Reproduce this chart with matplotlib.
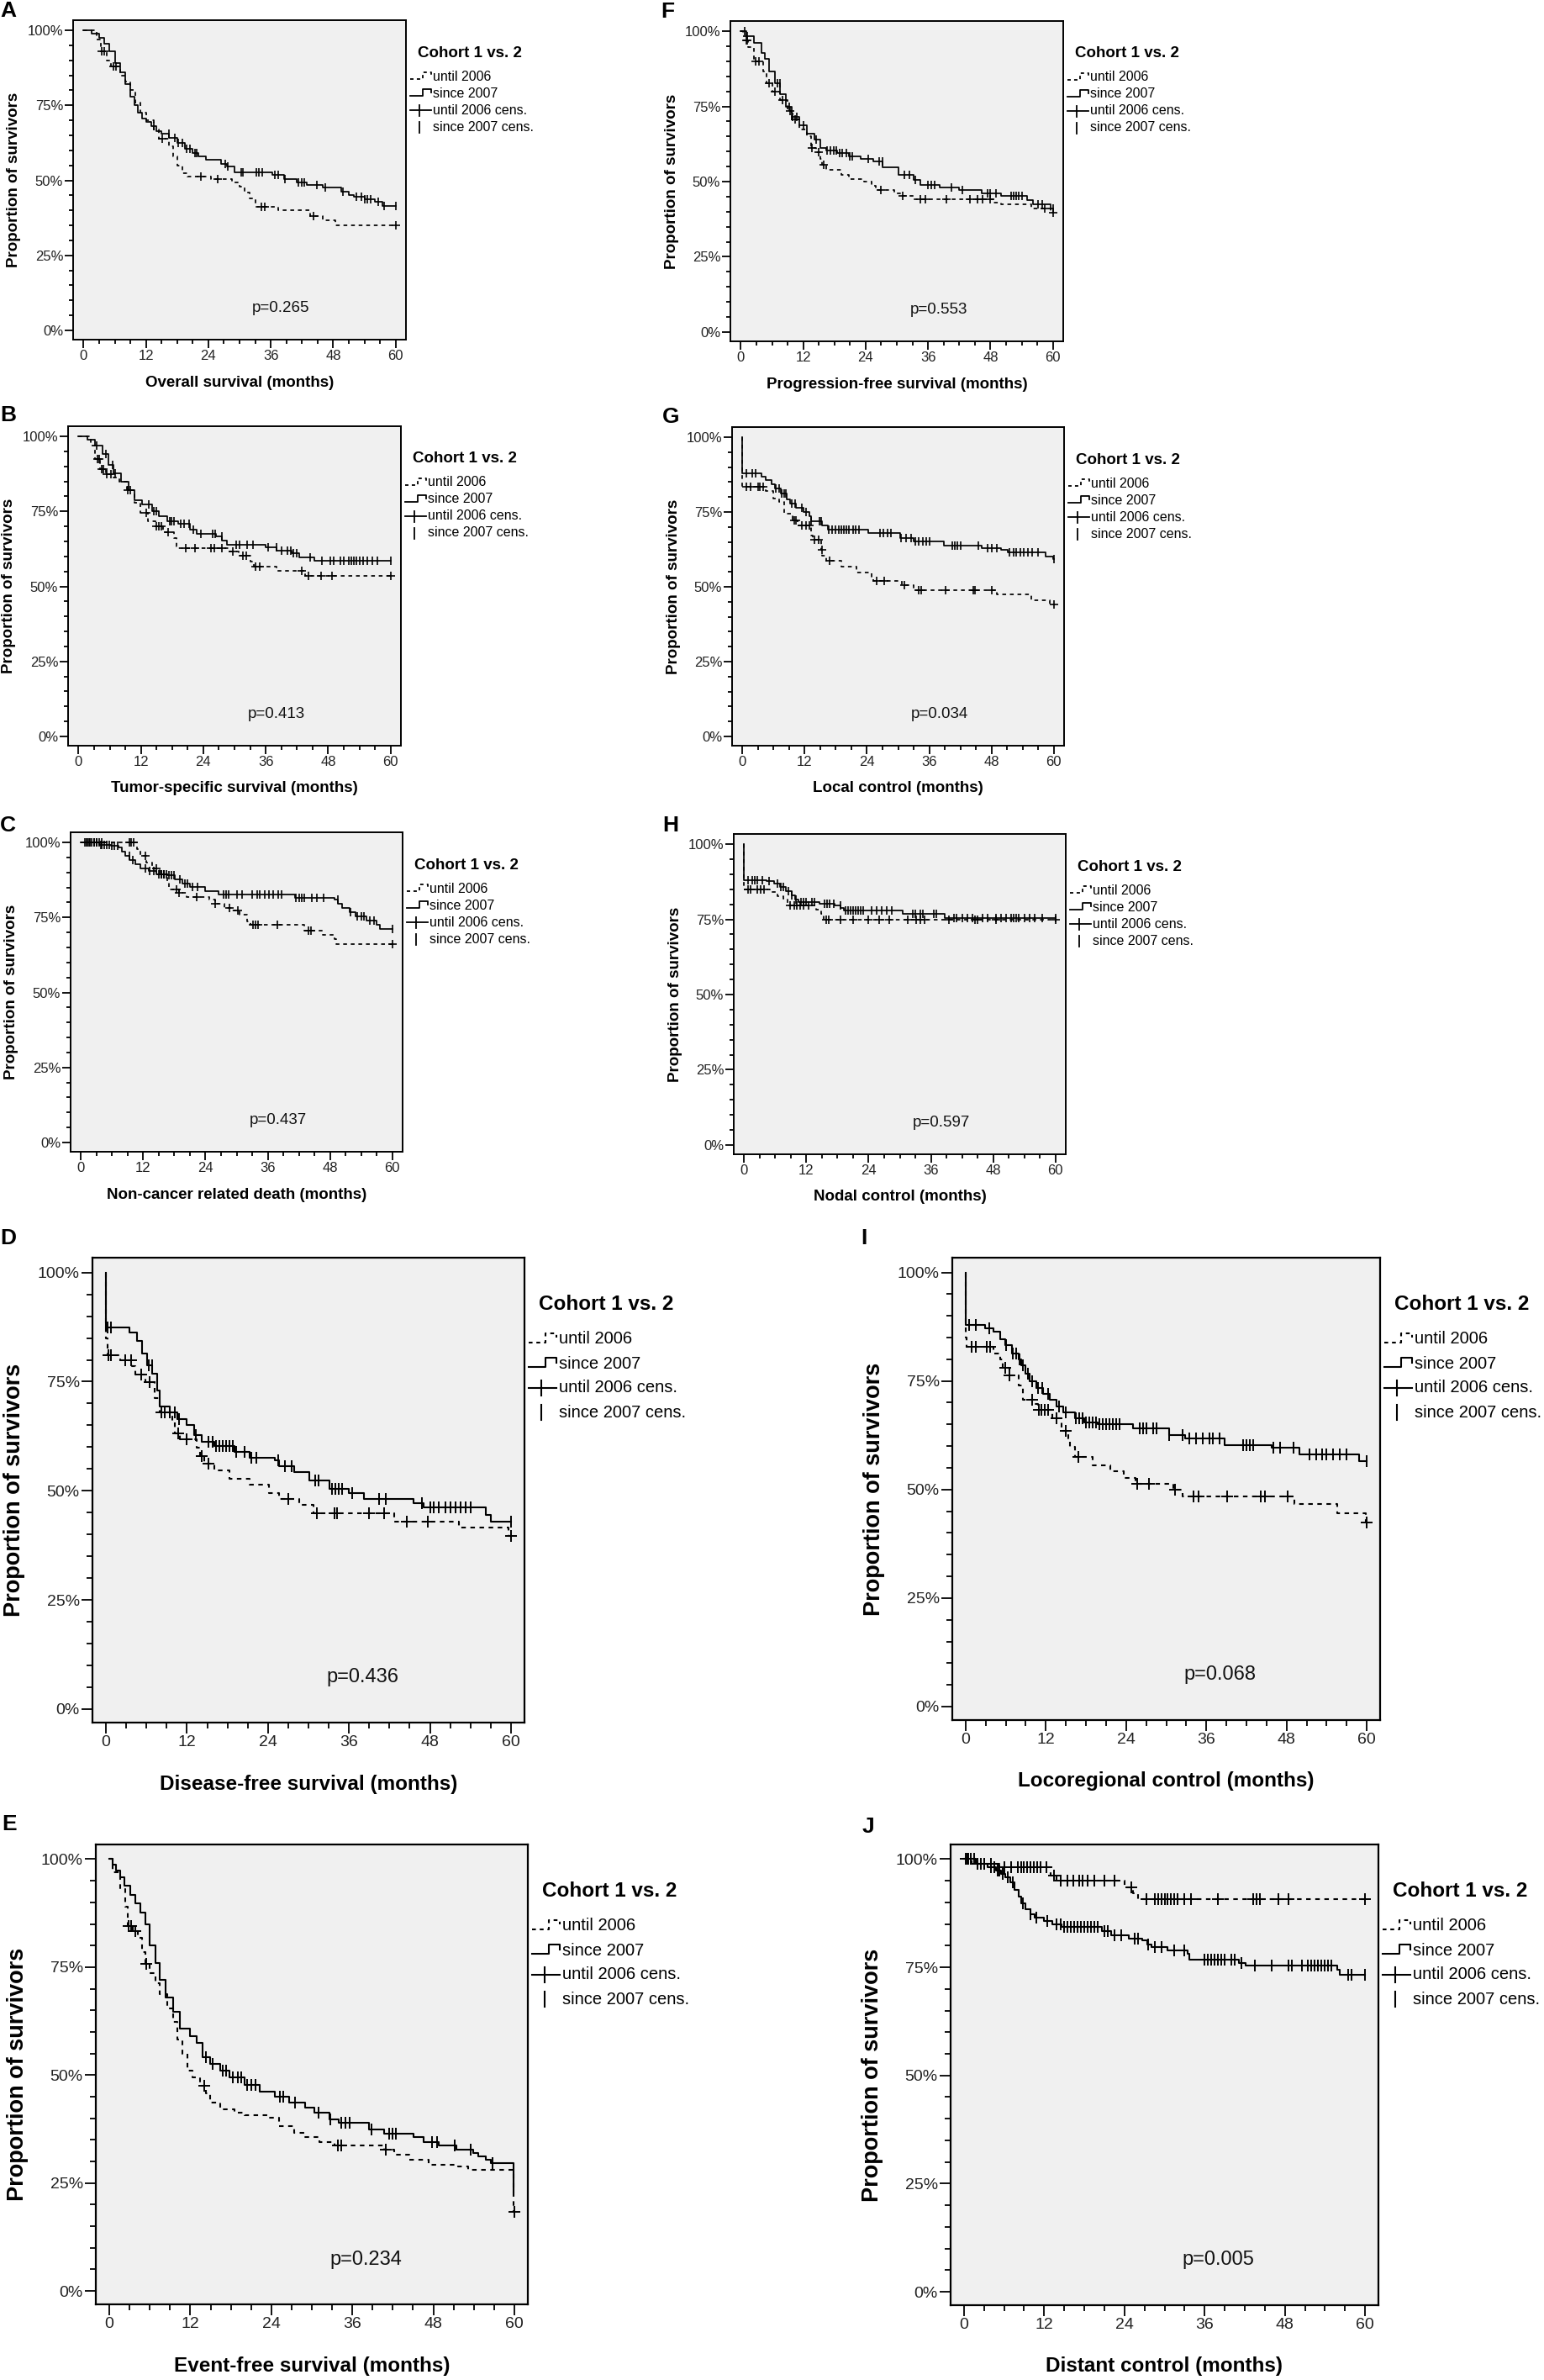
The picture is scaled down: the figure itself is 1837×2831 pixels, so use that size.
import numpy as np
import matplotlib
matplotlib.use('Agg')
import matplotlib.pyplot as plt
from matplotlib.ticker import MultipleLocator

plt.rcParams['font.family'] = ['Liberation Sans', 'DejaVu Sans']

# ---------------- data (months, % surviving) ----------------
# A  Overall survival
A_until_t = [2.5, 3.3, 4.5, 5.2, 7.0, 8.0, 9.0, 10.0, 10.9, 12.0, 13.5, 14.5, 16.5, 17.2, 18.0, 19.0, 20.0, 24.5, 28.5, 30.0, 31.0, 32.0, 33.0, 37.5, 43.5, 46.0, 48.5]
A_until_s = [97, 93, 90, 88, 85, 83, 80, 76, 72.5, 70, 67, 64, 61.5, 58, 55, 52.5, 51.3, 50.3, 49.3, 48, 46, 44, 41.3, 40, 38.2, 36.7, 35]
A_until_c = [3.5, 4.0, 5.7, 6.2, 15.2, 22.5, 25.8, 34.2, 34.9, 44.2, 60]
A_since_t = [1.5, 3, 4, 5, 6, 7, 8, 9, 9.8, 10.5, 11.2, 12, 13, 14, 15, 16.5, 18, 19.5, 21, 22, 23.6, 26.5, 27.5, 29, 36.3, 38.5, 41, 43, 46, 49.5, 51, 52, 54, 56, 57.5]
A_since_s = [99, 97.5, 95.5, 93, 89, 86, 82, 78, 75, 72.5, 70.5, 69.5, 68, 66.5, 65.5, 64.3, 62.5, 60.5, 59, 58, 56.8, 55.6, 54.5, 52.7, 51.7, 50.5, 49.4, 48.4, 47.5, 46.2, 45, 44.5, 43.7, 42.8, 41.4]
A_since_c = [13.5, 16.4, 17.5, 18.2, 19, 19.8, 20.5, 21.5, 21.8, 27.2, 27.8, 30.3, 30.7, 33.2, 33.7, 34.3, 36.8, 37.5, 38.8, 41.3, 41.9, 42.5, 44.8, 46.5, 49.8, 52.5, 53.5, 54, 54.5, 55.2, 56.7, 57.8, 60]

# B  Tumor-specific survival
B_until_t = [2.4, 3.1, 4.2, 5.3, 6.8, 7.9, 9.3, 10.8, 11.9, 13.3, 14.8, 16.3, 18.4, 18.8, 19.2, 29.0, 30.8, 33.0, 33.7, 38.1, 43.6]
B_until_s = [97, 92.4, 89, 87.5, 86.3, 84.9, 82, 77.9, 74.6, 71.8, 70, 68.1, 66.2, 63.4, 62.7, 61.6, 60.1, 58.2, 56.7, 55.1, 53.5]
B_until_c = [3.6, 3.9, 4.4, 4.8, 5.5, 6.2, 9.5, 13.0, 15.0, 15.4, 16.0, 17.3, 20.6, 22.4, 25.4, 26.1, 27.6, 29.7, 31.6, 32.3, 34.1, 34.8, 42.9, 44.3, 46.7, 48.7, 60]
B_since_t = [1.7, 3.1, 4.6, 5.7, 6.8, 8.2, 9.7, 10.8, 12.2, 14.1, 15.5, 17.0, 19.2, 21.4, 22.8, 26.5, 27.6, 28.6, 35.9, 38.1, 41.0, 42.5, 45.4]
B_since_s = [99, 97, 94.2, 90.5, 87.7, 84.9, 82, 78.8, 77.4, 75.1, 73.3, 71.8, 70.9, 69, 67.6, 66.7, 65.3, 63.9, 63, 62, 61.1, 59.7, 58.6]
B_since_c = [3.5, 5.3, 6.5, 7, 10, 13.5, 14.5, 15, 17.5, 17.8, 18.3, 19.7, 20.3, 21.2, 22, 23.5, 25.8, 26.3, 27.5, 30.3, 31, 32.5, 33.5, 36.5, 38, 39, 40.2, 40.8, 41.3, 42, 44.5, 46.8, 48.5, 49, 50.3, 51, 52, 52.5, 53, 53.5, 54, 54.8, 55.5, 56.5, 57.5, 60]

# C  Non-cancer related death
C_until_t = [10.8, 11.5, 12.6, 13.7, 15.2, 16.7, 17.0, 18.9, 20.3, 24.7, 25.8, 27.6, 29.1, 30.6, 32.0, 32.7, 43.0, 46.6, 48.8, 49.2]
C_until_s = [97.8, 95.5, 93.2, 91.3, 89.4, 86.6, 84.3, 83.3, 81.9, 81, 79.6, 78.2, 77.3, 75.9, 73.6, 72.6, 70.7, 69.3, 67.9, 66]
C_until_c = [0.8, 1.3, 1.8, 2.5, 3.0, 3.5, 4.0, 9.3, 9.7, 10.2, 12.5, 14.5, 15.5, 16.0, 18.4, 18.9, 22.3, 25.9, 28.6, 30.2, 33.2, 33.7, 34.2, 37.8, 43.8, 44.3, 60]
C_since_t = [3.5, 5.7, 7.2, 7.9, 8.6, 9.4, 10.5, 11.5, 13.0, 14.5, 16.7, 18.1, 19.6, 21.0, 24.0, 26.5, 41.2, 48.8, 49.6, 50.3, 51.8, 52.9, 55.0, 56.9, 57.6]
C_since_s = [99.2, 98.8, 98.3, 96.9, 95.5, 94.1, 92.7, 91.3, 90.4, 89.4, 89, 87.6, 86.2, 85.2, 83.8, 82.7, 81.5, 81, 79.6, 78.2, 76.8, 75.4, 74, 72.6, 71.2]
C_since_c = [1, 1.5, 2, 2.5, 3, 3.8, 4, 4.5, 5, 5.5, 6, 6.5, 7, 9.3, 10, 12.5, 13.3, 14, 15, 15.5, 16, 16.5, 17, 17.5, 18, 19, 20, 20.5, 21.5, 22.5, 27.5, 28, 28.5, 30, 31, 33, 34, 34.5, 35.5, 36.3, 37, 38, 38.7, 41.5, 42, 42.5, 43, 44.5, 45.5, 46.8, 49.5, 52, 53.3, 54, 54.5, 55.7, 56.5, 60]

# D  Disease-free survival
D_until_t = [0.0, 0.3, 2.1, 3.9, 4.3, 5.8, 7.2, 8.0, 9.8, 10.2, 10.9, 13.5, 13.9, 14.6, 16.1, 18.3, 21.3, 24.2, 25.7, 28.6, 30.8, 42.7, 52.3, 59.6]
D_until_s = [85, 81, 80, 78.6, 76.7, 74.9, 71.2, 67.9, 66, 63.2, 61.8, 59.9, 58, 56.2, 54.7, 52.8, 51.4, 49.5, 48.1, 46.7, 44.8, 43, 41.5, 39.7]
D_until_c = [0.4, 0.7, 2.8, 3.7, 5.2, 6.5, 8.2, 8.7, 9.4, 10.7, 11.9, 14.2, 15.2, 27.0, 31.2, 33.8, 34.2, 39.0, 41.2, 44.6, 47.7, 60]
D_since_t = [0.0, 3.5, 4.6, 5.4, 6.1, 6.9, 7.6, 8.0, 9.4, 10.6, 12.0, 13.1, 14.2, 16.1, 19.0, 21.3, 25.0, 25.7, 27.9, 30.1, 33.1, 36.0, 38.2, 45.6, 47.1, 56.3, 57.0]
D_since_s = [87.5, 86.2, 84.3, 81.5, 78.7, 76.8, 73, 69.3, 67.9, 66.4, 65, 62.7, 61.3, 60.3, 58.9, 57.5, 57, 55.6, 54.2, 52.3, 50.4, 49.5, 48.1, 47.2, 46.2, 44.4, 42.9]
D_since_c = [0.3, 0.7, 6.3, 6.8, 9.5, 10.2, 10.8, 13.3, 15.2, 15.8, 16.3, 16.8, 17.3, 17.8, 18.3, 18.8, 19.3, 20.5, 21.5, 22.3, 25.5, 26.5, 27.5, 31, 31.5, 33.5, 34, 34.5, 35, 36.5, 40.5, 41.5, 46.8, 48, 48.5, 49.3, 50.3, 51, 51.8, 52.5, 53.3, 54, 60]

# E  Event-free survival
E_until_t = [0.5, 1.6, 2.4, 2.7, 3.5, 4.2, 4.9, 5.4, 6.0, 6.8, 7.5, 8.6, 9.4, 10.1, 10.8, 11.6, 12.3, 13.5, 14.3, 14.9, 16.4, 18.6, 20.0, 23.7, 25.2, 27.4, 28.9, 31.1, 33.3, 40.7, 42.2, 44.4, 47.3, 51.7, 53.2, 59.9]
E_until_s = [97, 93, 88.9, 84.5, 83.3, 81.7, 78.5, 75.7, 73.6, 71.2, 68.8, 65.5, 62.3, 58.3, 55, 51, 49.4, 47.5, 45.7, 43.7, 42.1, 41.3, 40.7, 40.1, 38.1, 36.6, 35.7, 34.5, 33.7, 32.8, 31.6, 30.4, 29.2, 28.8, 28, 18.3]
E_until_c = [2.9, 3.2, 3.8, 5.5, 14.0, 33.8, 34.4, 41.0, 60]
E_since_t = [0.5, 1.0, 1.6, 2.2, 3.1, 3.8, 4.6, 5.3, 6.0, 6.8, 7.5, 8.3, 9.4, 10.5, 11.9, 13.0, 13.8, 14.9, 16.4, 17.8, 20.0, 22.3, 24.5, 26.7, 29.0, 30.4, 32.6, 34.0, 38.5, 40.7, 45.1, 46.6, 48.8, 51.4, 53.9, 54.7, 55.8, 56.5, 59.9]
E_since_s = [98.8, 97.3, 95.8, 93.8, 91.8, 89.8, 87.7, 84.9, 80, 76, 72, 68, 64.7, 60.7, 59, 57.5, 54.2, 52.6, 51, 49.4, 47.8, 46.2, 45, 43.7, 42.5, 41.3, 39.7, 38.9, 37.3, 36.5, 35.7, 34.5, 33.7, 32.8, 32, 31.2, 30.4, 29.6, 23]
E_since_c = [14.3, 15.3, 16.8, 17.3, 18.3, 19.0, 19.5, 20.4, 21.0, 21.6, 25.3, 25.8, 27.5, 31.0, 32.8, 34.3, 35.0, 35.6, 38.8, 41.5, 42.0, 42.5, 47.8, 48.5, 51.2, 53.5, 56.8]

# F  Progression-free survival
F_until_t = [0.5, 1.0, 1.4, 2.5, 4.3, 5.0, 6.1, 7.6, 9.0, 9.8, 11.3, 12.7, 13.5, 14.5, 15.3, 15.6, 16.4, 19.3, 20.8, 23.7, 25.1, 25.9, 29.5, 31.0, 33.2, 48.5, 50.0, 55.8, 59.5]
F_until_s = [98.5, 97, 94.6, 90, 86.6, 82.8, 80, 77.2, 73.5, 70.6, 67.4, 65, 61.3, 59.8, 57.5, 55.6, 53.8, 52.3, 50.9, 50, 48.6, 47.2, 46.2, 45.3, 44.2, 43, 42.5, 41.1, 39.7]
F_until_c = [1.1, 1.3, 2.8, 3.5, 5.5, 6.5, 8.0, 9.5, 10.5, 13.7, 15.0, 16.0, 27.0, 31.2, 34.5, 35.5, 39.5, 44.0, 45.5, 46.5, 48.0, 58.5, 60]
F_since_t = [1.0, 2.5, 3.9, 4.7, 5.4, 6.5, 7.6, 8.7, 9.8, 11.3, 12.7, 14.2, 15.3, 16.4, 18.6, 20.8, 23.0, 25.5, 27.3, 30.3, 33.2, 34.6, 38.3, 42.0, 46.3, 50.0, 55.1, 56.2, 59.5]
F_since_s = [98.3, 96, 92.7, 90.8, 86.6, 82.8, 79, 74.9, 71.6, 68.8, 66, 64, 61.3, 60.3, 59.4, 58.4, 57.5, 56.6, 54.7, 52.3, 50.5, 49, 48.1, 47.2, 46.2, 45.3, 43.9, 42.5, 41.1]
F_since_c = [0.8, 1.3, 7.0, 7.5, 9.3, 10.0, 10.7, 12.0, 14.5, 16.6, 17.3, 17.8, 18.4, 19.0, 19.5, 20.3, 21.0, 21.5, 24.5, 26.6, 27.2, 31.5, 32.5, 33.5, 36.0, 36.6, 37.2, 40.5, 42.6, 47.5, 48.0, 49.0, 52.0, 52.5, 53.0, 53.5, 54.0, 57.2, 58.0, 60]

# G  Local control
G_until_t = [0.0, 4.5, 5.9, 7.0, 8.1, 9.6, 10.7, 13.2, 13.6, 15.1, 15.4, 16.2, 19.1, 22.0, 24.9, 25.3, 30.8, 33.0, 49.0, 55.6, 59.3]
G_until_s = [83.5, 82, 79.6, 78.4, 74.4, 72.3, 70.4, 67.2, 65.7, 62.3, 60.5, 58.6, 56.7, 54.9, 53.5, 52.1, 50.7, 48.8, 47.4, 45.5, 44.1]
G_until_c = [0.8, 1.5, 3.0, 3.4, 4.0, 10.0, 10.3, 11.5, 12.2, 12.9, 13.8, 14.7, 15.3, 16.8, 25.8, 27.3, 31.2, 34.0, 34.4, 39.2, 44.5, 44.8, 48.0, 60]
G_since_t = [0.0, 3.7, 4.5, 5.6, 6.3, 7.4, 8.5, 9.2, 10.3, 11.8, 12.9, 13.2, 15.4, 16.5, 24.2, 30.4, 33.0, 38.8, 46.1, 49.8, 51.2, 58.5, 59.9]
G_since_s = [88, 86.8, 85.8, 84.4, 83, 81.2, 79.3, 77.9, 76.5, 75.1, 73.7, 71.8, 70.4, 69, 68.1, 66.2, 65.3, 63.9, 63, 62.5, 61.6, 60.1, 59.2]
G_since_c = [0.8, 1.9, 2.6, 6.5, 7, 7.5, 8, 8.3, 9.5, 10.2, 11.5, 12.3, 13.3, 14.8, 15.2, 16.6, 17.3, 18, 18.5, 19, 19.5, 20, 20.5, 21.3, 21.8, 22.5, 26.5, 27.2, 28, 28.6, 30.5, 31.5, 32.5, 33.3, 34, 34.7, 35.4, 36.1, 40.5, 41, 41.5, 42, 45.5, 47.3, 48, 49, 51.5, 52.2, 52.8, 53.5, 54.2, 55, 55.8, 57, 60]

# H  Nodal control
H_until_t = [0.0, 5.0, 6.5, 7.6, 8.3, 13.8, 14.9, 15.3]
H_until_s = [85, 84.2, 82.8, 81.9, 79.6, 78.2, 76.8, 74.9]
H_until_c = [0.8, 1.3, 2.5, 3.2, 3.9, 8.8, 9.7, 10.2, 10.8, 11.5, 12.5, 15.8, 16.3, 18.5, 21.0, 24.0, 26.0, 28.0, 31.5, 33.2, 34.0, 34.8, 39.5, 44.5, 45.0, 48.5, 60]
H_since_t = [0.0, 4.3, 5.8, 6.9, 8.0, 9.1, 9.8, 10.5, 14.5, 17.5, 18.6, 19.3, 30.6, 38.7]
H_since_s = [88, 87.7, 86.8, 85.8, 84.4, 83, 81.6, 80.7, 80.2, 79.7, 78.8, 77.9, 76.9, 75.5]
H_since_c = [0.8, 1.5, 2, 2.5, 3.5, 4.8, 6.5, 7, 7.5, 8.5, 9.2, 10, 11, 11.5, 12, 13, 13.5, 15.5, 16, 16.5, 17.2, 18.5, 19.5, 20, 20.5, 21, 21.5, 22, 22.5, 23, 24.5, 25.5, 26.5, 27.5, 28.5, 32.5, 33, 34, 34.5, 36.5, 37, 40.5, 41, 42, 43, 44, 46, 47, 48.5, 49.5, 50.5, 51.5, 52, 52.5, 53, 54, 55, 56, 57.5, 60]

# I  Locoregional control
I_until_t = [0.0, 0.2, 4.2, 5.2, 5.6, 6.6, 7.9, 8.6, 10.3, 10.8, 13.0, 14.3, 15.3, 15.6, 16.3, 19.0, 21.7, 23.7, 25.4, 31.1, 32.4, 49.2, 55.6, 59.9]
I_until_s = [85, 82.9, 81.4, 80, 78.1, 76.3, 73.9, 70.6, 69.7, 68.3, 66.4, 63.6, 61.7, 59.8, 57.5, 55.6, 54.2, 52.7, 51.3, 50, 48.5, 46.6, 44.5, 42.5]
I_until_c = [0.9, 1.5, 3.2, 3.6, 5.9, 6.6, 9.9, 10.9, 11.3, 11.8, 12.3, 13.6, 15.0, 16.8, 25.7, 27.4, 31.3, 34.1, 34.8, 39.1, 44.2, 44.8, 48.2, 60]
I_since_t = [0.0, 2.9, 4.2, 5.2, 5.9, 6.9, 7.9, 8.3, 8.9, 9.6, 10.6, 11.6, 12.6, 13.6, 14.6, 16.3, 17.7, 19.7, 25.0, 30.4, 32.8, 38.8, 45.8, 49.9, 58.9]
I_since_s = [88, 87.1, 86.3, 84.7, 83.3, 81.4, 80, 78.6, 76.7, 74.9, 73.4, 72, 70.6, 69.2, 67.8, 66.4, 65.4, 65, 64, 62.6, 61.7, 60.3, 59.7, 58, 56.5]
I_since_c = [0.5, 1.5, 3.5, 6, 7, 7.5, 8, 8.5, 9.3, 10, 10.8, 11.5, 12.3, 14, 15, 16.5, 17, 17.5, 18, 18.5, 19, 19.5, 20, 20.5, 21, 21.5, 22, 22.5, 23, 26, 26.5, 27, 28, 28.5, 30.5, 32.5, 33.5, 34.5, 35.5, 36.5, 37, 38, 41.5, 42, 42.5, 43, 46, 47, 49, 51.5, 52.5, 53.3, 54, 55, 56, 57, 60]

# J  Distant control
J_until_t = [1.1, 5.5, 12.9, 13.9, 24.0, 25.3, 26.0]
J_until_s = [99, 98.2, 96.2, 95, 93.4, 92.2, 90.8]
J_until_c = [0.3, 0.6, 2, 3, 4, 6, 7, 8, 8.5, 9, 9.5, 10, 10.5, 11, 11.5, 12.3, 13.5, 14.5, 15.5, 16.3, 17.2, 17.7, 18.5, 19.5, 21, 22.5, 25.0, 27.3, 28.5, 29, 29.5, 30, 30.5, 31, 31.5, 32, 33, 34, 38, 43.3, 43.8, 44.3, 47, 48.5, 60]
J_since_t = [1.8, 3.5, 4.8, 5.5, 6.2, 6.9, 7.5, 8.2, 8.5, 9.2, 9.9, 10.6, 11.9, 13.2, 14.6, 20.6, 22.0, 24.7, 26.7, 27.4, 28.0, 30.4, 33.4, 33.7, 41.1, 42.1, 55.9, 56.2]
J_since_s = [99, 98.2, 97.4, 96.6, 95.8, 94.6, 93, 91.4, 89.8, 88.5, 87.3, 86.5, 85.7, 84.9, 84.3, 83.3, 82.5, 81.7, 81.3, 80.2, 79.7, 78.9, 78.1, 76.7, 76, 75.4, 74.4, 73.2]
J_since_c = [0.5, 1, 1.5, 2.5, 3, 4, 4.5, 5, 5.3, 5.8, 6.5, 7.3, 8.8, 10, 10.8, 12.5, 13.8, 14.5, 15, 15.5, 16, 16.5, 17, 17.5, 18, 18.5, 19, 19.5, 20, 21, 21.5, 22.5, 23.5, 25.5, 26, 27.5, 28.5, 29.5, 31.5, 33, 36, 36.5, 37, 37.5, 38, 38.5, 39, 40, 40.5, 41.5, 43.5, 46, 48.5, 49, 50.5, 51.5, 52, 52.5, 53, 53.5, 54, 54.5, 55, 57.5, 58, 60]

panel_letters = ['A', 'B', 'C', 'D', 'E', 'F', 'G', 'H', 'I', 'J']
x_labels = ['Overall survival (months)', 'Tumor-specific survival (months)',
            'Non-cancer related death (months)', 'Disease-free survival (months)',
            'Event-free survival (months)', 'Progression-free survival (months)',
            'Local control (months)', 'Nodal control (months)',
            'Locoregional control (months)', 'Distant control (months)']
p_values = ['p=0.265', 'p=0.413', 'p=0.437', 'p=0.436', 'p=0.234',
            'p=0.553', 'p=0.034', 'p=0.597', 'p=0.068', 'p=0.005']
legend_title = 'Cohort 1 vs. 2'
legend_labels = ['until 2006', 'since 2007', 'until 2006 cens.', 'since 2007 cens.']
y_ticks = [0, 25, 50, 75, 100]
y_ticklabels = ['0%', '25%', '50%', '75%', '100%']
x_ticks = [0, 12, 24, 36, 48, 60]

curves = {
    'A': (A_until_t, A_until_s, A_until_c, A_since_t, A_since_s, A_since_c),
    'B': (B_until_t, B_until_s, B_until_c, B_since_t, B_since_s, B_since_c),
    'C': (C_until_t, C_until_s, C_until_c, C_since_t, C_since_s, C_since_c),
    'D': (D_until_t, D_until_s, D_until_c, D_since_t, D_since_s, D_since_c),
    'E': (E_until_t, E_until_s, E_until_c, E_since_t, E_since_s, E_since_c),
    'F': (F_until_t, F_until_s, F_until_c, F_since_t, F_since_s, F_since_c),
    'G': (G_until_t, G_until_s, G_until_c, G_since_t, G_since_s, G_since_c),
    'H': (H_until_t, H_until_s, H_until_c, H_since_t, H_since_s, H_since_c),
    'I': (I_until_t, I_until_s, I_until_c, I_since_t, I_since_s, I_since_c),
    'J': (J_until_t, J_until_s, J_until_c, J_since_t, J_since_s, J_since_c),
}

# ---------------- layout (pixels) ----------------
W, H = 1837, 2831
frames = {
    'A': (87, 24, 483, 404), 'F': (869, 25, 1265, 406),
    'B': (81, 507, 477, 887), 'G': (871, 508, 1266, 887),
    'C': (84, 990, 479, 1370), 'H': (873, 992, 1268, 1373),
    'D': (110, 1496, 624, 2049), 'I': (1133, 1496, 1642, 2046),
    'E': (114, 2194, 628, 2741), 'J': (1131, 2194, 1640, 2742),
}
letter_pos = {
    'A': (0, 1), 'F': (786, 2), 'B': (0, 482), 'G': (788, 484),
    'C': (0, 970), 'H': (788, 970), 'D': (0, 1461), 'I': (1024, 1461),
    'E': (2, 2158), 'J': (1026, 2161),
}
big_panels = {'D', 'E', 'I', 'J'}

fig = plt.figure(figsize=(W / 100, H / 100), dpi=100)
fig.patch.set_facecolor('white')


def km_arrays(t, s):
    tt = np.concatenate([[0.0], np.asarray(t, float)])
    ss = np.concatenate([[100.0], np.asarray(s, float)])
    return tt, ss


def level_at(tt, ss, c):
    idx = np.searchsorted(tt, np.asarray(c, float), side='right') - 1
    return ss[idx]


axes = {}
for key in panel_letters:
    x0, y0, x1, y1 = frames[key]
    big = key in big_panels
    ax = fig.add_axes([x0 / W, 1 - y1 / H, (x1 - x0) / W, (y1 - y0) / H])
    axes[key] = ax
    ax.set_facecolor('#f0f0f0')
    ax.set_xlim(-2.0, 62.0)
    ax.set_ylim(-3.1, 103.4)
    lw = 1.5 if big else 1.25
    ms = 9.5 if big else 7.5
    ut, us, uc, st, ss_, sc = curves[key]
    # until 2006 (dashed, '+' censors)
    tt, sv = km_arrays(ut, us)
    tend = max(max(uc), tt[-1])
    ax.step(np.append(tt, tend), np.append(sv, sv[-1]), where='post',
            color='black', lw=lw, linestyle=(0, (2.6, 2.6)), zorder=3)
    ax.plot(uc, level_at(tt, sv, uc), linestyle='none', marker='+',
            ms=ms, mew=1.4 if big else 1.2, color='black', zorder=4)
    # since 2007 (solid, '|' censors)
    tt2, sv2 = km_arrays(st, ss_)
    tend2 = max(max(sc), tt2[-1])
    ax.step(np.append(tt2, tend2), np.append(sv2, sv2[-1]), where='post',
            color='black', lw=lw, linestyle='-', zorder=3)
    ax.plot(sc, level_at(tt2, sv2, sc), linestyle='none', marker='|',
            ms=ms, mew=1.4 if big else 1.2, color='black', zorder=4)

    ax.set_xticks(x_ticks)
    ax.set_xticklabels([str(v) for v in x_ticks])
    ax.xaxis.set_minor_locator(MultipleLocator(3))
    ax.set_yticks(y_ticks)
    ax.set_yticklabels(y_ticklabels)
    ax.yaxis.set_minor_locator(MultipleLocator(5))
    ax.tick_params(which='major', direction='out', length=9.5 if big else 7,
                   width=1.3, labelsize=14 if big else 12, pad=1.5,
                   labelcolor='#222222')
    ax.tick_params(which='minor', direction='out', length=5 if big else 3.8, width=1.3)
    for sp in ax.spines.values():
        sp.set_linewidth(1.6 if big else 1.4)
        sp.set_color('black')
    ax.text(38, 7.3, p_values[panel_letters.index(key)], ha='center', va='center',
            fontsize=17 if big else 13.5, color='#111111')

# overlay for labels and legends (pixel coordinates)
ov = fig.add_axes([0, 0, 1, 1])
ov.set_xlim(0, W)
ov.set_ylim(H, 0)
ov.axis('off')
ov.patch.set_alpha(0)

for i, key in enumerate(panel_letters):
    x0, y0, x1, y1 = frames[key]
    big = key in big_panels
    lx, ly = letter_pos[key]
    ov.text(lx, ly, key, ha='left', va='top', fontsize=19, fontweight='bold')
    # axis labels
    ov.text((x0 + x1) / 2, y1 + (73 if big else 51), x_labels[i], ha='center',
            va='center', fontsize=17.5 if big else 13.5, fontweight='bold')
    ov.text(x0 - (93 if big else 70), (y0 + y1) / 2, 'Proportion of survivors',
            rotation=90, ha='center', va='center',
            fontsize=19.5 if big else 13.5, fontweight='bold')
    # legend
    if big:
        tdx, tdy, sx, sw, tx, rows, hh = 17, 55, 5, 33, 41, [97, 126, 155, 184], 7
        tfs, efs = 17.5, 14.5
    else:
        tdx, tdy, sx, sw, tx, rows, hh = 14, 39, 5, 25, 32, [67, 87, 107, 127], 5
        tfs, efs = 13.5, 11.5
    ov.text(x1 + tdx, y0 + tdy, legend_title, ha='left', va='center',
            fontsize=tfs, fontweight='bold')
    a = x1 + sx
    slw = 1.5 if big else 1.3
    # until 2006 symbol (dashed step)
    yy = y0 + rows[0]
    ov.plot([a, a + 0.6 * sw, a + 0.6 * sw, a + sw, a + sw],
            [yy + 0.6 * hh, yy + 0.6 * hh, yy - hh, yy - hh, yy - 0.3 * hh],
            color='black', lw=slw, linestyle=(0, (2.2, 2.2)))
    # since 2007 symbol (solid step)
    yy = y0 + rows[1]
    ov.plot([a, a + 0.6 * sw, a + 0.6 * sw, a + sw, a + sw],
            [yy + 0.6 * hh, yy + 0.6 * hh, yy - hh, yy - hh, yy - 0.2 * hh],
            color='black', lw=slw)
    # until 2006 cens.
    yy = y0 + rows[2]
    ov.plot([a, a + sw], [yy, yy], color='black', lw=slw)
    ov.plot([a + 0.45 * sw, a + 0.45 * sw], [yy - 1.3 * hh, yy + 1.3 * hh], color='black', lw=slw)
    # since 2007 cens.
    yy = y0 + rows[3]
    ov.plot([a + 0.45 * sw, a + 0.45 * sw], [yy - 1.3 * hh, yy + 1.3 * hh], color='black', lw=slw)
    for r, lab in zip(rows, legend_labels):
        ov.text(x1 + tx, y0 + r, lab, ha='left', va='center', fontsize=efs)

fig.savefig('out.png', dpi=100, facecolor='white')
